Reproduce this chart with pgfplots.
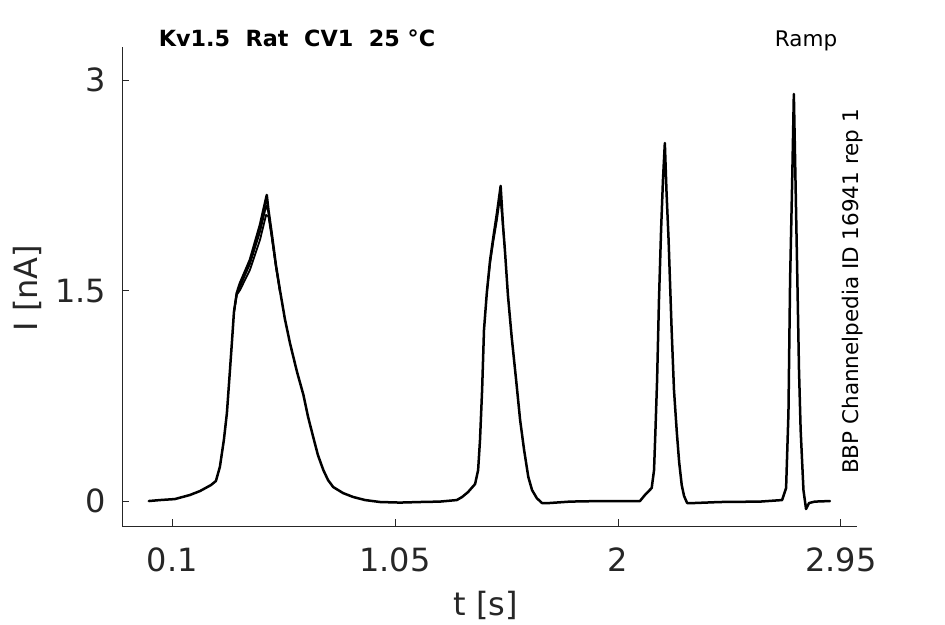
\documentclass[border=0pt]{standalone}
\usepackage{pgfplots}
\pgfplotsset{compat=1.18}
\usepackage{fontspec}
\setmainfont{DejaVu Sans}
\definecolor{axgray}{HTML}{262626}
\begin{document}
\begin{tikzpicture}[x=1pt,y=1pt]
\useasboundingbox (0,0) rectangle (945,624);
\begin{axis}[
  at={(122.3pt,98pt)}, anchor=south west,
  scale only axis, width=734.4pt, height=479.3pt,
  xmin=-0.113, xmax=3.018, ymin=-0.178, ymax=3.24,
  axis lines=left, axis line style={-, color=axgray, line width=0.8pt},
  tick align=inside, major tick length=7pt,
  tick style={color=axgray, line width=0.8pt},
  xtick={0.1,1.05,2,2.95}, xticklabels={0.1,1.05,2,2.95},
  ytick={0,1.5,3}, yticklabels={0,1.5,3},
  /pgf/number format/assume math mode=true,
  xticklabel style={font=\fontsize{32}{38}\selectfont, text=axgray, inner sep=0pt, yshift=-22pt, anchor=north},
  yticklabel style={font=\fontsize{32}{38}\selectfont, text=axgray, inner sep=0pt, xshift=-16pt, anchor=east},
  clip=false,
]
% main trace
\addplot[black, line width=2.5pt, line join=round, line cap=round] coordinates {
(0.000,0.000) (0.048,0.007) (0.111,0.014) (0.175,0.043) (0.218,0.071) (0.265,0.114)
(0.286,0.143) (0.303,0.243) (0.320,0.435) (0.333,0.628) (0.346,0.934) (0.355,1.148)
(0.363,1.348) (0.375,1.484) (0.389,1.555) (0.431,1.719) (0.474,1.969) (0.503,2.183)
(0.510,2.076) (0.525,1.897) (0.542,1.683) (0.559,1.505) (0.580,1.300) (0.602,1.125)
(0.632,0.920) (0.659,0.758) (0.679,0.600) (0.701,0.456) (0.721,0.328) (0.744,0.221)
(0.764,0.150) (0.786,0.100) (0.828,0.057) (0.871,0.029) (0.922,0.007) (0.986,-0.007)
(1.071,-0.011) (1.156,-0.007) (1.241,-0.004) (1.313,0.007) (1.336,0.029) (1.361,0.064)
(1.391,0.121) (1.404,0.221) (1.412,0.435) (1.421,0.792) (1.429,1.220) (1.441,1.484)
(1.455,1.719) (1.469,1.883) (1.485,2.061) (1.500,2.247) (1.510,1.969) (1.519,1.769)
(1.531,1.469) (1.547,1.170) (1.566,0.863) (1.583,0.578) (1.600,0.364) (1.618,0.171)
(1.634,0.078) (1.654,0.021) (1.676,-0.014) (1.710,-0.014) (1.796,-0.004) (1.924,0.000)
(2.094,0.000) (2.115,0.043) (2.144,0.093) (2.154,0.221) (2.160,0.506) (2.167,0.863)
(2.175,1.434) (2.184,1.933) (2.192,2.290) (2.200,2.553) (2.207,2.211) (2.216,1.862)
(2.229,1.220) (2.239,0.792) (2.251,0.492) (2.261,0.278) (2.272,0.114) (2.282,0.036)
(2.295,-0.014) (2.329,-0.014) (2.435,-0.007) (2.606,-0.004) (2.700,0.007) (2.717,0.093)
(2.727,0.628) (2.734,1.576) (2.743,2.290) (2.750,2.903) (2.757,2.290) (2.765,1.576)
(2.772,0.934) (2.779,0.506) (2.791,0.078) (2.802,-0.057) (2.815,-0.014) (2.840,-0.004)
(2.904,0.000)
};
% other repetitions (first and second peaks)
\addplot[black, line width=1.8pt, line join=round] coordinates {
(0.363,1.348) (0.375,1.470) (0.389,1.505) (0.431,1.648) (0.474,1.862) (0.500,2.040)
(0.510,2.030) (0.525,1.870) (0.542,1.670) (0.559,1.495)
};
\addplot[black, line width=1.8pt, line join=round] coordinates {
(0.363,1.348) (0.375,1.478) (0.389,1.530) (0.431,1.690) (0.474,1.920) (0.501,2.110)
(0.510,2.060) (0.525,1.885) (0.542,1.678) (0.559,1.500)
};
\addplot[black, line width=1.6pt, line join=round] coordinates {
(1.441,1.484) (1.455,1.690) (1.469,1.850) (1.485,2.010) (1.498,2.170) (1.508,1.990) (1.519,1.780)
};
\end{axis}
\node[anchor=base, font=\bfseries\fontsize{22.3}{27}\selectfont] at (297,577.3) {Kv1.5\ \ Rat\ \ CV1\ \ 25 °C};
\node[anchor=base, font=\fontsize{21.5}{26}\selectfont] at (806,577.3) {Ramp};
\node[anchor=base, rotate=90, font=\fontsize{21.5}{26}\selectfont] at (858.7,332.5) {BBP Channelpedia ID 16941 rep 1};
\node[anchor=base, rotate=90, font=\fontsize{32}{38}\selectfont, text=axgray] at (37,336) {I [nA]};
\node[anchor=base, font=\fontsize{32}{38}\selectfont, text=axgray] at (486,9) {t [s]};
\end{tikzpicture}
\end{document}
